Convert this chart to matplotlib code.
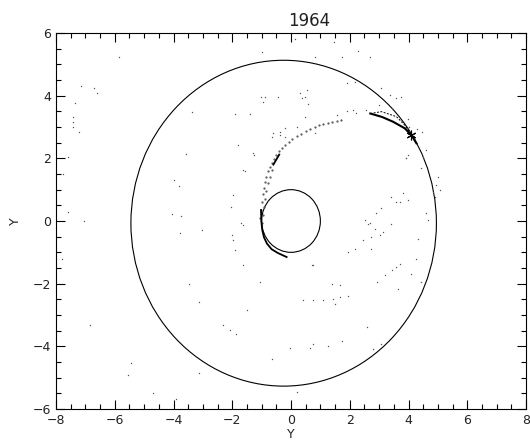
import matplotlib
matplotlib.use('Agg')
from matplotlib import pyplot as plt
from matplotlib.patches import Circle

# circles: (x0, y0, radius)
circ_x = [-0.25, 0.0]
circ_y = [-0.07, 0.0]
circ_r = [5.2, 1.0]

# dotted tracer strands
trail1_x = [-1.05, -1.03, -1.0, -0.97, -0.93, -0.89, -0.84, -0.78, -0.72, -0.65, -0.58, -0.5, -0.4,
            -0.3, -0.2, -0.08, 0.05, 0.2, 0.35, 0.5, 0.65, 0.8, 0.95, 1.1, 1.25, 1.4, 1.55, 1.7]
trail1_y = [0.1, 0.35, 0.6, 0.85, 1.05, 1.25, 1.42, 1.58, 1.72, 1.86, 1.98, 2.1, 2.22,
            2.33, 2.43, 2.53, 2.62, 2.71, 2.79, 2.87, 2.94, 3.0, 3.05, 3.1, 3.14, 3.17, 3.2, 3.22]
trail2_x = [-0.98, -0.95, -0.92, -0.88, -0.84, -0.79, -0.73, -0.66]
trail2_y = [-0.05, 0.2, 0.45, 0.7, 0.95, 1.2, 1.42, 1.62]

# solid arc under the small circle
arc_x = [-1.02, -1.01, -0.98, -0.92, -0.82, -0.66, -0.45, -0.15]
arc_y = [0.35, 0.0, -0.28, -0.52, -0.72, -0.9, -1.02, -1.15]
seg_x = [-0.6, -0.4]
seg_y = [1.8, 2.12]

# crescent next to the star
cres_lo_x = [2.7, 3.1, 3.47, 3.87, 4.1, 4.27]
cres_lo_y = [3.43, 3.32, 3.17, 2.96, 2.74, 2.48]
cres_hi_x = [2.7, 3.08, 3.59, 3.87, 4.1]
cres_hi_y = [3.43, 3.49, 3.33, 3.06, 2.74]
star_x = [4.1]
star_y = [2.74]

# scattered particles
dots_x = [-5.86, -7.15, -6.7, -6.62, -7.36, -7.43, -7.43, -7.41, -7.22, -7.59, -7.75, -7.59, -7.04,
          -3.37, -3.59, -3.99, -3.82, -4.04, -3.76, -1.0, -1.03, -1.89, -1.38, -1.79, -1.27, -1.57,
          -1.97, -2.05, -1.71, 0.13, 1.46, 2.28, 1.74, 2.68, 0.83, 1.89, 2.17, 3.08, 3.36, 3.59, 3.76,
          0.53, 0.36, 0.58, -0.44, 2.11, 1.89, 1.55, 0.47, 0.19, -0.21, -0.38, -0.66, 3.98, 3.98, 3.93,
          5.0, 4.95, 5.06, 4.89, 3.81, 3.98, 3.7, 3.42, 3.59, 3.08, 2.91, 2.68, 2.51, 4.61, 4.66,
          2.62, 2.86, 3.14, 3.02, 2.74, 2.45, 3.42, 4.32, 2.17, 1.94, 2.71, 4.27, 3.7, 3.59, 3.45,
          4.1, 3.19, 2.94, 4.41, 3.64, 0.75, 1.38, 1.66, 0.41, 0.75, 1.09, 1.43, 1.66, 1.94, 1.49,
          2.6, 1.72, -0.04, 0.64, 0.75, 1.26, 2.79, 3.08, -0.66, 0.19, -3.04, -3.78, -2.02, -1.97,
          -1.91, -7.81, -1.63, -1.06, -3.48, -3.14, -1.51, -6.84, -2.33, -2.08, -1.88, -5.43, -5.54,
          -3.14, -4.71, -3.9, -0.89, -0.95, 0.3, 0.47, -0.61, -0.38, -0.21, 0.81, -1.29, -1.63,
          4.61, 4.5, 4.44, 3.93, 4.84, -1.63, 0.7, 4.3, 4.45, 4.0, 3.45, 3.0, 2.55, 2.2]
dots_y = [5.22, 4.32, 4.26, 4.09, 3.76, 3.33, 3.17, 3.0, 2.83, 2.05, 1.5, 0.29, 0.0,
          3.49, 2.13, 1.3, 1.12, 0.21, 0.15, 5.4, 3.96, 3.4, 3.43, 2.41, 2.12, 1.59,
          0.82, 0.45, -0.05, 5.8, 5.72, 5.43, 5.22, 5.22, 5.22, 4.39, 4.44, 4.23, 4.02, 3.91, 3.95,
          4.18, 3.91, 3.75, 3.96, 3.54, 3.51, 3.38, 3.31, 3.01, 2.96, 2.74, 2.69, 3.27, 2.1, 2.0,
          1.41, 1.14, 0.98, 0.77, 0.88, 0.66, 0.61, 0.77, 0.61, 0.4, 0.24, -0.06, 0.03, 0.24, 0.03,
          -0.1, -0.24, -0.35, -0.45, -0.51, -0.61, -0.08, -0.56, -0.88, -0.99, -0.88, -1.2, -1.36, -1.47, -1.57,
          -1.68, -1.73, -1.95, -1.95, -2.16, -1.41, -2.0, -2.05, -2.53, -2.53, -2.51, -2.48, -2.44, -2.4, -2.64,
          -3.38, -3.83, -4.04, -4.04, -3.94, -4.0, -4.07, -3.94, -4.42, -5.46, -0.29, -0.38, -0.45, -0.61,
          -0.91, -1.2, -1.39, -1.95, -2.0, -2.58, -2.83, -3.33, -3.33, -3.49, -3.62, -4.52, -4.9,
          -4.85, -5.49, -5.67, 3.96, 3.81, 4.07, 3.96, 2.81, 2.85, 2.67, 2.8, 2.16, 1.62,
          2.26, 2.05, 1.68, 2.0, 0.93, -0.13, -1.41, 2.95, 2.85, 3.0, 3.6, 3.7, 3.55, 3.45]

fig = plt.figure(figsize=(5.3, 4.43), dpi=100)
ax = fig.add_axes([56/530, 1-409/443, 470/530, 376/443])

for cx, cy, r in zip(circ_x, circ_y, circ_r):
    ax.add_patch(Circle((cx, cy), r, fill=False, color='k', lw=0.8))

ax.scatter(dots_x, dots_y, s=1.0, c='#555555', linewidths=0)
ax.plot(trail1_x, trail1_y, ls='none', marker='.', ms=1.2, color='#555555')
ax.plot(trail2_x, trail2_y, ls='none', marker='.', ms=1.2, color='#555555')
ax.plot(arc_x, arc_y, color='k', lw=1.3)
ax.plot(seg_x, seg_y, color='k', lw=1.3)
ax.plot(cres_lo_x, cres_lo_y, color='k', lw=1.5)
ax.plot(cres_hi_x, cres_hi_y, color='k', lw=0.7, ls=(0, (2, 1.5)))
ax.plot(star_x, star_y, ls='none', marker=(6, 2, 0), ms=7, mew=0.8, color='k')

ax.set_xlim(-8, 8)
ax.set_ylim(-6, 6)
ax.set_xticks(range(-8, 9, 2))
ax.set_yticks(range(-6, 7, 2))
ax.set_xticks([i * 0.5 for i in range(-16, 17)], minor=True)
ax.set_yticks([i * 0.5 for i in range(-12, 13)], minor=True)
ax.tick_params(which='both', direction='in', top=True, right=True, labelsize=9, width=0.8,
               labelcolor='#222222')
ax.tick_params(which='major', length=6.5)
ax.tick_params(which='minor', length=3.4)
for s in ax.spines.values():
    s.set_linewidth(0.8)

ax.set_xlabel('Y', fontsize=9, labelpad=1, color='#222222')
ax.set_ylabel('Y', fontsize=9, labelpad=8, color='#222222')
fig.text(309/530, 1-26/443, '1964', ha='center', va='baseline', fontsize=12, color='#222222')

fig.savefig('out.png', dpi=100)
